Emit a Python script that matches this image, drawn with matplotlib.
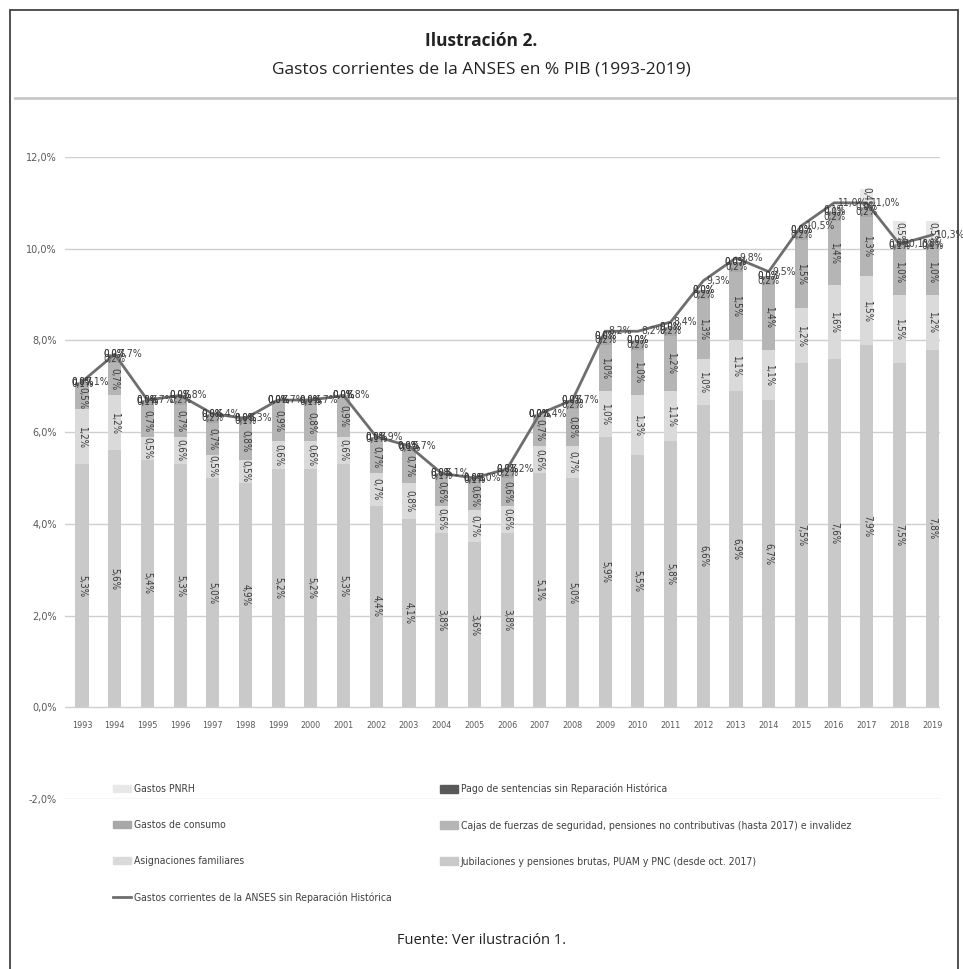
import matplotlib.pyplot as plt
from matplotlib.patches import Rectangle, Patch
from matplotlib.lines import Line2D
import numpy as np

years = [str(y) for y in range(1993, 2020)]
jubilaciones = [5.3, 5.6, 5.4, 5.3, 5.0, 4.9, 5.2, 5.2, 5.3, 4.4, 4.1, 3.8, 3.6, 3.8,
                5.1, 5.0, 5.9, 5.5, 5.8, 6.6, 6.9, 6.7, 7.5, 7.6, 7.9, 7.5, 7.8]
asignaciones = [1.2, 1.2, 0.5, 0.6, 0.5, 0.5, 0.6, 0.6, 0.6, 0.7, 0.8, 0.6, 0.7, 0.6,
                0.6, 0.7, 1.0, 1.3, 1.1, 1.0, 1.1, 1.1, 1.2, 1.6, 1.5, 1.5, 1.2]
cajas = [0.5, 0.7, 0.7, 0.7, 0.7, 0.8, 0.9, 0.8, 0.9, 0.7, 0.7, 0.6, 0.6, 0.6,
         0.7, 0.8, 1.0, 1.0, 1.2, 1.3, 1.5, 1.4, 1.5, 1.4, 1.3, 1.0, 1.0]
consumo = [0.1, 0.2, 0.1, 0.2, 0.2, 0.1, 0.0, 0.1, 0.0, 0.1, 0.1, 0.1, 0.1, 0.2,
           0.0, 0.2, 0.2, 0.2, 0.2, 0.2, 0.2, 0.2, 0.2, 0.2, 0.2, 0.1, 0.1]
sentencias = [0.0] * 27
pnrh = [0.0] * 23 + [0.1, 0.4, 0.5, 0.5]
total = [7.1, 7.7, 6.7, 6.8, 6.4, 6.3, 6.7, 6.7, 6.8, 5.9, 5.7, 5.1, 5.0, 5.2,
         6.4, 6.7, 8.2, 8.2, 8.4, 9.3, 9.8, 9.5, 10.5, 11.0, 11.0, 10.1, 10.3]

series = [
    ("Jubilaciones y pensiones brutas, PUAM y PNC (desde oct. 2017)", jubilaciones, "#c9c9c9"),
    ("Asignaciones familiares", asignaciones, "#dadada"),
    ("Cajas de fuerzas de seguridad, pensiones no contributivas (hasta 2017) e invalidez", cajas, "#b5b5b5"),
    ("Gastos de consumo", consumo, "#a8a8a8"),
    ("Pago de sentencias sin Reparación Histórica", sentencias, "#595959"),
    ("Gastos PNRH", pnrh, "#e8e8e8"),
]
line_label = "Gastos corrientes de la ANSES sin Reparación Histórica"
line_color = "#6e6e6e"

narrow = ["Liberation Sans Narrow", "DejaVu Sans"]
txt_gray = "#595959"


def pct(v):
    return f"{v:.1f}%".replace(".", ",")


fig = plt.figure(figsize=(9.63, 9.69), dpi=100)

# frame and header
fig.patches.append(Rectangle((10 / 963, -0.01), 948 / 963, 1 - 10 / 969 + 0.01,
                             transform=fig.transFigure, fill=False, ec="#333333", lw=1.2))
fig.add_artist(Line2D([15 / 963, 955 / 963], [1 - 98 / 969] * 2, transform=fig.transFigure,
                      color="#c8c8c8", lw=2))
fig.text(0.5, 1 - 41 / 969, "Ilustración 2.", ha="center", va="center",
         fontsize=12.5, fontweight="bold", family="Open Sans", color="#222222")
fig.text(0.5, 1 - 70 / 969, "Gastos corrientes de la ANSES en % PIB (1993-2019)",
         ha="center", va="center", fontsize=12.5, family="Open Sans", color="#222222")
fig.text(0.5, 1 - 941 / 969, "Fuente: Ver ilustración 1.", ha="center", va="center",
         fontsize=10.5, family="Open Sans", color="#222222")

ax = fig.add_axes([65 / 963, 1 - 799 / 969, 875 / 963, 642 / 969])
x = np.arange(len(years))
bottom = np.zeros(len(years))
for name, vals, col in series:
    vals = np.array(vals)
    ax.bar(x, vals, 0.4, bottom=bottom, color=col, zorder=2)
    for i, v in enumerate(vals):
        yc = bottom[i] + v / 2
        rot = 270 if v >= 0.4 else 0
        ax.text(i, yc, pct(v), ha="center", va="center", rotation=rot,
                fontsize=7, family=narrow, fontstretch="condensed",
                color="#3a3a3a", zorder=4)
    bottom += vals

ax.plot(x, total, color=line_color, lw=2, zorder=3)
for i, v in enumerate(total):
    ax.text(i + 0.1, v, pct(v), ha="left", va="center", fontsize=7.5,
            family=narrow, fontstretch="condensed", color="#404040", zorder=5)

for i, y in enumerate(years):
    ax.text(i, -0.3, y, ha="center", va="top", fontsize=6.5, family=narrow,
            fontstretch="condensed", color=txt_gray)

ax.set_xlim(-0.52, 26.24)
ax.set_ylim(-2, 12)
ax.set_yticks(range(-2, 13, 2))
ax.set_yticklabels([pct(v) for v in range(-2, 13, 2)], fontsize=7, family=narrow, color=txt_gray)
ax.tick_params(axis="y", length=0, pad=6)
ax.set_xticks([])
ax.grid(axis="y", color="#cfcfcf", lw=1, zorder=0)
for s in ax.spines.values():
    s.set_visible(False)

# legend in two columns
h = {name: Patch(color=col) for name, _, col in series}
col1 = [series[5][0], series[3][0], series[1][0]]
col2 = [series[4][0], series[2][0], series[0][0]]
lkw = dict(frameon=False, handlelength=1.7, handleheight=0.75,
           labelspacing=2.5, handletextpad=0.3, borderaxespad=0, borderpad=0,
           prop={"family": narrow, "size": 7.5, "stretch": "condensed"}, labelcolor="#404040")
leg1 = fig.legend([h[n] for n in col1] + [Line2D([], [], color=line_color, lw=2)],
                  col1 + [line_label], loc="upper left",
                  bbox_to_anchor=(113 / 963, 1 - 784 / 969), **lkw)
leg2 = fig.legend([h[n] for n in col2], col2, loc="upper left",
                  bbox_to_anchor=(440 / 963, 1 - 784 / 969), **lkw)

fig.savefig("out.png", dpi=100)
